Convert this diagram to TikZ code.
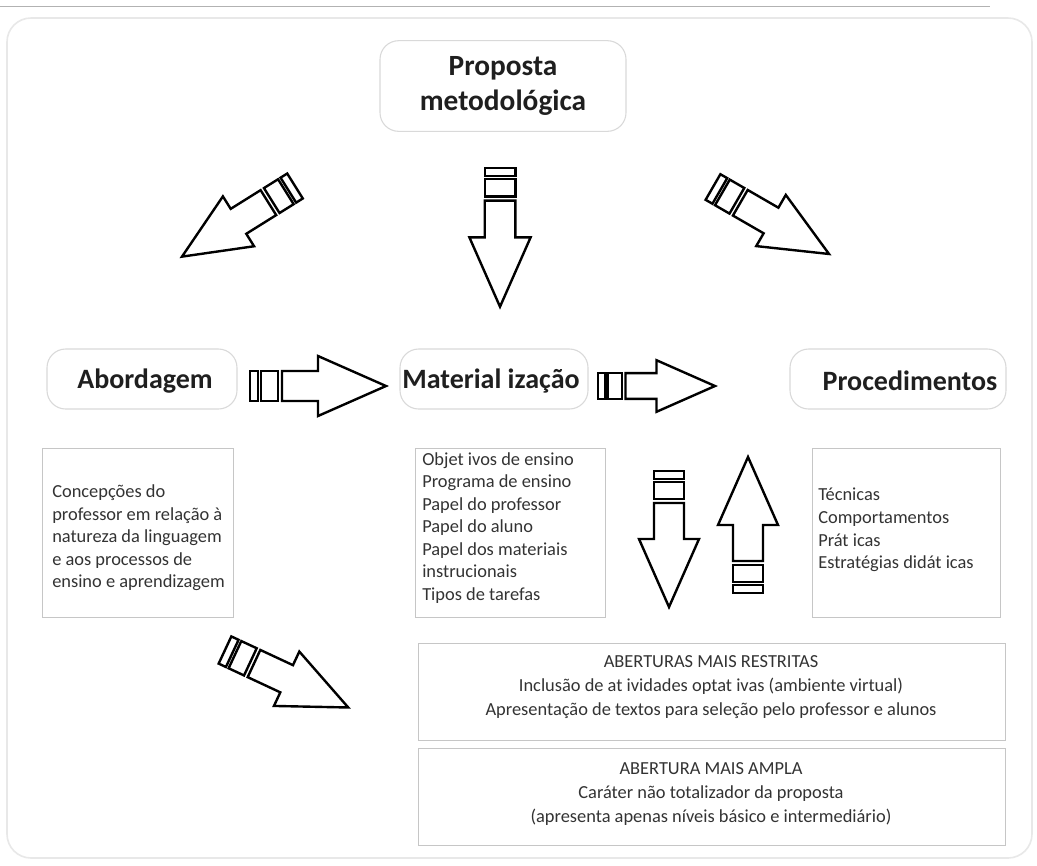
\documentclass[tikz,border=0pt]{standalone}
\usepackage{fontspec}
\setmainfont{Carlito}
\newcommand{\blockarr}[3]{%
  \begin{scope}[shift={#1},rotate=#2,scale=#3]
    \draw[bigarrow] (0,-15) rectangle (8,15);
    \draw[bigarrow] (11,-15) rectangle (28,15);
    \draw[bigarrow] (32,-15) -- (68,-15) -- (68,-30) -- (136,0) -- (68,30) -- (68,15) -- (32,15) -- cycle;
  \end{scope}}
\begin{document}
\begin{tikzpicture}[x=0.75pt,y=-0.75pt,
  hdrbox/.style={draw=gray!30, line width=0.8pt, rounded corners=14pt, fill=white, inner sep=0pt},
  hdrtext/.style={font=\bfseries\fontsize{21}{26.25}\selectfont, text=black!88, align=center, inner sep=0pt},
  descbox/.style={draw=gray!45, line width=0.7pt, fill=white, inner sep=0pt},
  desctext/.style={font=\fontsize{13.8}{16.9}\selectfont, text=black!80, align=left, inner sep=0pt},
  bottext/.style={font=\fontsize{13.8}{18}\selectfont, text=black!80, align=center, inner sep=0pt},
  bigarrow/.style={draw=black, line width=1.8pt, fill=white, line join=miter},
  frame/.style={draw=gray!18, line width=1.2pt, rounded corners=18pt},
  rule/.style={draw=gray!60, line width=0.6pt}]
\useasboundingbox (0,0) rectangle (1037,865);
\fill[white] (0,0) rectangle (1037,865);
% top rule and outer frame
\coordinate (rl) at (0,6);
\coordinate (rr) at (990,6);
\draw[rule] (rl) -- (rr);
\draw[frame] (7,18) rectangle (1032,858);
% header boxes
\node[hdrbox, minimum width=184.5pt, minimum height=68pt] (propbox) at (503,86) {};
\node[hdrtext, font=\bfseries\fontsize{22}{26.25}\selectfont] (prop) at (503,86) {Proposta\\metodológica};
\node[hdrbox, minimum width=142.5pt, minimum height=45pt] (abordbox) at (142,379) {};
\node[hdrtext] (abord) at (145,381) {Abordagem};
\node[hdrbox, minimum width=141pt, minimum height=45pt] (materbox) at (494,379) {};
\node[hdrtext] (mater) at (491,381) {Material ização};
\node[hdrbox, minimum width=162pt, minimum height=45pt] (procbox) at (898,379) {};
\node[hdrtext] (proc) at (910,381) {Procedimentos};
% description boxes
\node[descbox, minimum width=143.25pt, minimum height=126.75pt] (dleft) at (137.5,532.5) {};
\node[descbox, minimum width=142.5pt, minimum height=126.75pt] (dmid) at (510,532.5) {};
\node[descbox, minimum width=141pt, minimum height=126.75pt] (dright) at (906,532.5) {};
\node[desctext, anchor=west] (tleft) at (52,538) {Concepções do\\professor em relação à\\natureza da linguagem\\e aos processos de\\ensino e aprendizagem};
\node[desctext, anchor=west] (tmid) at (422,528) {Objet ivos de ensino\\Programa de ensino\\Papel do professor\\Papel do aluno\\Papel dos materiais\\instrucionais\\Tipos de tarefas};
\node[desctext, anchor=west] (tright) at (818,530) {Técnicas\\Comportamentos\\Prát icas\\Estratégias didát icas};
% bottom boxes
\node[descbox, minimum width=440.25pt, minimum height=72.75pt] (b1) at (711.5,691.5) {};
\node[descbox, minimum width=440.25pt, minimum height=72.75pt] (b2) at (711.5,796.5) {};
\node[bottext] (t1) at (711,687) {ABERTURAS MAIS RESTRITAS\\Inclusão de at ividades optat ivas (ambiente virtual)\\Apresentação de textos para seleção pelo professor e alunos};
\node[bottext] (t2) at (711,794) {ABERTURA MAIS AMPLA\\Caráter não totalizador da proposta\\(apresenta apenas níveis básico e intermediário)};
% block arrows
\blockarr{(295,186)}{212}{0.98}
\blockarr{(500,168)}{-90}{1.02}
\blockarr{(713,187)}{-30}{0.985}
\blockarr{(250,386)}{0}{1}
\blockarr{(598,386)}{0}{0.86}
\blockarr{(669,471)}{-90}{1}
\blockarr{(748,593)}{90}{1}
\blockarr{(225,650)}{-25}{1}
\end{tikzpicture}
\end{document}
